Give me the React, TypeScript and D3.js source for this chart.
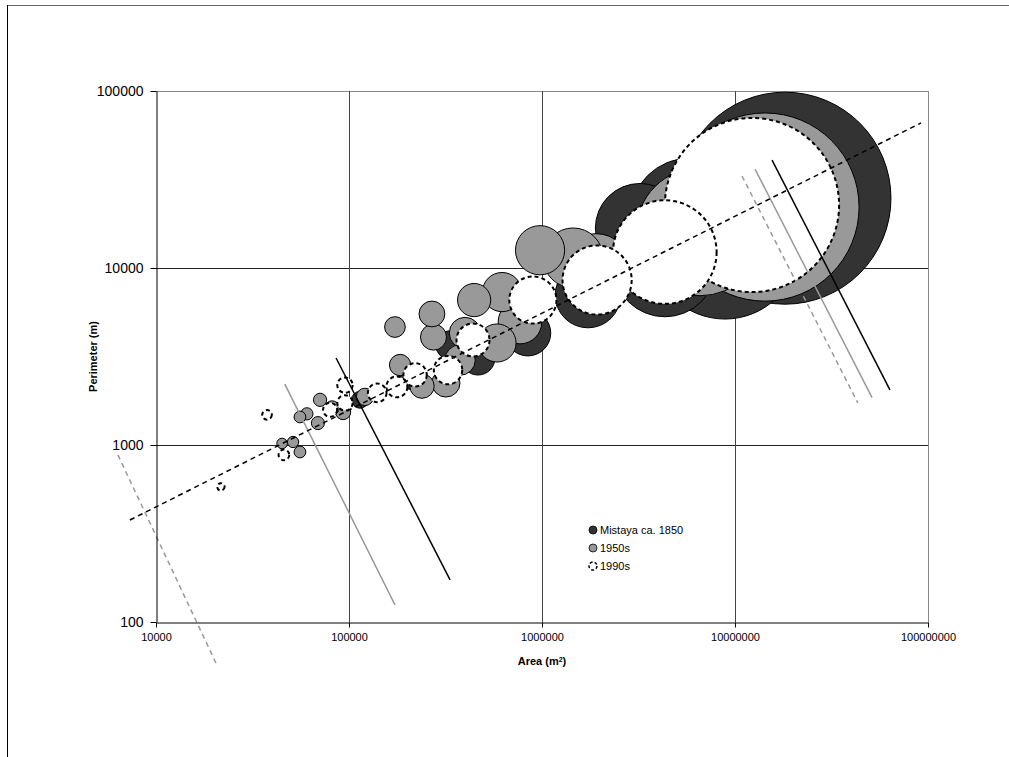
import React, { useEffect, useRef } from 'react';
import * as d3 from 'd3';

// Area (m2) and perimeter (m), one pair per bubble
const mistayaArea = [18150000, 8870000, 5850000, 3220000, 4330000, 1730000, 845000, 466000, 334000, 114000, 207000];
const mistayaPerim = [24800, 13500, 19100, 16800, 10400, 7030, 4290, 3100, 3670, 1800, 2390];

const fiftiesArea = [14300000, 6590000, 1905000, 977000, 1450000, 621000, 445000, 769000, 585000, 399000, 269000, 274000, 173000, 376000, 239000, 318000, 184000, 121000, 93200, 81700, 70800, 69000, 60500, 55700, 51300, 45000, 55700];
const fiftiesPerim = [22100, 16000, 10000, 12600, 11400, 7310, 6590, 4950, 3770, 4290, 5500, 4070, 4640, 3020, 2150, 2240, 2830, 1870, 1535, 1620, 1800, 1330, 1500, 1440, 1040, 1020, 913];

const ninetiesArea = [12250000, 4330000, 1930000, 897000, 439000, 326000, 220000, 177000, 140000, 95300, 95300, 79800, 46000, 37600, 21700];
const ninetiesPerim = [22700, 12300, 8550, 6590, 3920, 2650, 2490, 2130, 1970, 2180, 1730, 1580, 879, 1480, 580];

const seriesNames = ['Mistaya ca. 1850', '1950s', '1990s'];
const xTicks = [1e4, 1e5, 1e6, 1e7, 1e8];
const yTicks = [100, 1000, 10000, 100000];

// straight lines, [area, perimeter] end points
const trendLine = [[7330, 377], [92000000, 66000]];
const blackLines = [
  [[85700, 3100], [334000, 173]],
  [[15560000, 40700], [63500000, 2050]],
];
const grayLines = [
  [[46500, 2210], [173000, 125]],
  [[12700000, 36200], [51300000, 1850]],
];
const grayDashLines = [
  [[6350, 879], [20700, 57]],
  [[10870000, 33100], [43300000, 1730]],
];

const App: React.FC = () => {
  const svgRef = useRef<SVGSVGElement>(null);

  useEffect(() => {
    if (!svgRef.current) return;
    const svg = d3.select(svgRef.current);
    svg.selectAll('*').remove();

    const font = "'Liberation Sans', Arial, sans-serif";
    const left = 156, right = 928, top = 91, bottom = 622;

    const x = d3.scaleLog().domain([1e4, 1e8]).range([left, right]);
    const y = d3.scaleLog().domain([100, 1e5]).range([bottom, top]);
    const r = d3.scaleSqrt().domain([0, d3.max(mistayaArea) as number]).range([0, 106]);

    // outer chart frame
    svg.append('line').attr('x1', 7).attr('x2', 1009).attr('y1', 5.5).attr('y2', 5.5)
      .attr('stroke', '#666').attr('stroke-width', 1);
    svg.append('line').attr('x1', 7.5).attr('x2', 7.5).attr('y1', 5).attr('y2', 757)
      .attr('stroke', '#000').attr('stroke-width', 1);

    // grid
    const grid = svg.append('g');
    yTicks.slice(1).forEach(t => {
      grid.append('line')
        .attr('x1', left).attr('x2', right)
        .attr('y1', Math.round(y(t)) + 0.5).attr('y2', Math.round(y(t)) + 0.5)
        .attr('stroke', t === 1e5 ? '#888' : '#222').attr('stroke-width', 1);
    });
    xTicks.slice(1).forEach(t => {
      grid.append('line')
        .attr('x1', Math.round(x(t)) + 0.5).attr('x2', Math.round(x(t)) + 0.5)
        .attr('y1', top).attr('y2', bottom)
        .attr('stroke', t === 1e8 ? '#888' : '#444').attr('stroke-width', 1);
    });

    // bubbles, biggest first inside each series
    const drawSeries = (areas: number[], perims: number[], fill: string, dashed: boolean) => {
      const pts = areas.map((a, i) => ({ a, p: perims[i] })).sort((m, n) => n.a - m.a);
      svg.append('g').selectAll('circle')
        .data(pts)
        .enter()
        .append('circle')
        .attr('cx', d => x(d.a))
        .attr('cy', d => y(d.p))
        .attr('r', d => r(d.a))
        .attr('fill', fill)
        .attr('stroke', '#000')
        .attr('stroke-width', dashed ? 2 : 1)
        .attr('stroke-dasharray', dashed ? '4,3' : null);
    };
    drawSeries(mistayaArea, mistayaPerim, '#333333', false);
    drawSeries(fiftiesArea, fiftiesPerim, '#999999', false);
    drawSeries(ninetiesArea, ninetiesPerim, '#ffffff', true);

    // lines
    const line = d3.line<number[]>().x(d => x(d[0])).y(d => y(d[1]));
    grayDashLines.forEach(l => {
      svg.append('path').attr('d', line(l)).attr('fill', 'none')
        .attr('stroke', '#999').attr('stroke-width', 1.5).attr('stroke-dasharray', '5,4');
    });
    grayLines.forEach(l => {
      svg.append('path').attr('d', line(l)).attr('fill', 'none')
        .attr('stroke', '#999').attr('stroke-width', 1.5);
    });
    blackLines.forEach(l => {
      svg.append('path').attr('d', line(l)).attr('fill', 'none')
        .attr('stroke', '#000').attr('stroke-width', 1.5);
    });
    svg.append('path').attr('d', line(trendLine)).attr('fill', 'none')
      .attr('stroke', '#000').attr('stroke-width', 1.5).attr('stroke-dasharray', '5,4');

    // axes
    const yAxis = d3.axisLeft(y).tickValues(yTicks).tickFormat(d3.format('d') as any).tickSize(6).tickSizeOuter(0);
    const gy = svg.append('g').attr('transform', `translate(${left + 0.5},0)`).call(yAxis);
    gy.selectAll('text').attr('font-size', 14).attr('font-family', font).attr('fill', '#000').attr('x', -13);
    gy.selectAll('line, path').attr('stroke', '#000');

    const xAxis = d3.axisBottom(x).tickValues(xTicks).tickFormat(d3.format('d') as any).tickSize(5).tickSizeOuter(0);
    const gx = svg.append('g').attr('transform', `translate(0,${bottom + 0.5})`).call(xAxis);
    gx.selectAll('text').attr('font-size', 11).attr('font-family', font).attr('fill', '#000').attr('y', 11);
    gx.selectAll('line, path').attr('stroke', '#000');

    // axis titles
    const xt = svg.append('text')
      .attr('x', (left + right) / 2).attr('y', 665)
      .attr('text-anchor', 'middle').attr('font-family', font)
      .attr('font-size', 11).attr('font-weight', 'bold').text('Area (m');
    xt.append('tspan').attr('baseline-shift', 'super').attr('font-size', 7).text('2');
    xt.append('tspan').text(')');

    svg.append('text')
      .attr('transform', `translate(97,${(top + bottom) / 2}) rotate(-90)`)
      .attr('text-anchor', 'middle').attr('font-family', font)
      .attr('font-size', 11).attr('font-weight', 'bold').text('Perimeter (m)');

    // legend
    const legendFill = ['#333333', '#999999', '#ffffff'];
    const lg = svg.append('g').attr('transform', 'translate(593,530)');
    seriesNames.forEach((name, i) => {
      lg.append('circle')
        .attr('cx', 0).attr('cy', i * 18).attr('r', 4)
        .attr('fill', legendFill[i]).attr('stroke', '#000')
        .attr('stroke-width', i === 2 ? 1.5 : 0.8)
        .attr('stroke-dasharray', i === 2 ? '3,2' : null);
      lg.append('text')
        .attr('x', 7).attr('y', i * 18).attr('dy', '0.35em')
        .attr('font-family', font).attr('font-size', 11).text(name);
    });
  }, []);

  return (
    <svg
      ref={svgRef}
      width={1009}
      height={757}
      style={{ position: 'absolute', left: 0, top: 0, background: '#fff' }}
    />
  );
};

export default App;
